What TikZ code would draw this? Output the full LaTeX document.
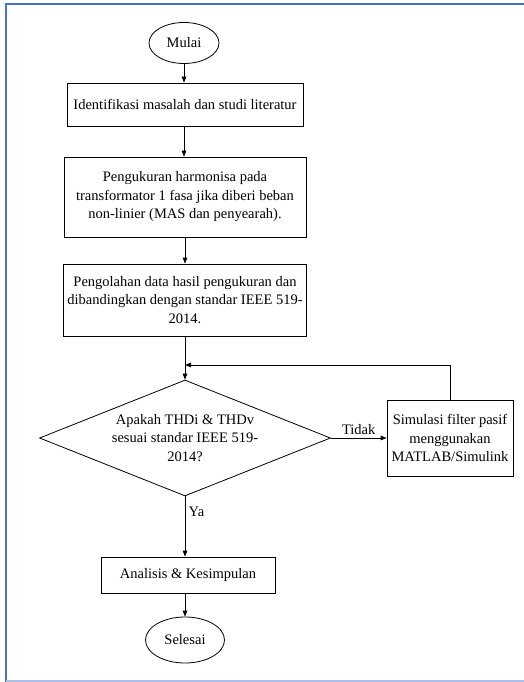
\documentclass[tikz,border=0pt]{standalone}
\usepackage{fontspec}
\setmainfont{Liberation Serif}
\usetikzlibrary{shapes.geometric,arrows.meta}

\definecolor{tepibiru}{RGB}{68,114,206}
\definecolor{tepimuda}{RGB}{172,192,228}

\tikzset{
	huruf/.style={font=\fontsize{14.5}{18.5}\selectfont},
	kotak/.style={draw, line width=0.8pt, align=center, inner sep=0pt, huruf},
	terminal/.style={draw, ellipse, line width=0.8pt, inner sep=0pt, huruf},
	keputusan/.style={draw, diamond, aspect=2.5, line width=0.8pt, align=center, inner sep=0pt, huruf},
	panah/.style={line width=0.8pt, -{Triangle[length=6pt,width=4.5pt]}}
}

\begin{document}
\begin{tikzpicture}[x=1pt,y=-1pt]
	\useasboundingbox (0,0) rectangle (524,682);
	\draw[tepibiru, line width=2pt] (6,682) -- (6,4) -- (524,4); % Bingkai.
	\draw[tepimuda, line width=1.2pt] (6,681) -- (524,681);

	\node[terminal, minimum width=70pt, minimum height=41pt] (mulai) at (184,43) {Mulai};
	\node[kotak, minimum width=236pt, minimum height=43pt] (identifikasi) at (185,104.5) {Identifikasi masalah dan studi literatur};
	\node[kotak, minimum width=242pt, minimum height=80pt] (pengukuran) at (185,197) {Pengukuran harmonisa pada\\ transformator 1 fasa jika diberi beban\\ non-linier (MAS dan penyearah).};
	\node[kotak, minimum width=243pt, minimum height=72pt] (pengolahan) at (185,300) {Pengolahan data hasil pengukuran dan\\ dibandingkan dengan standar IEEE 519-\\ 2014.};
	\coordinate (gabung) at (185,365);
	\node[keputusan, minimum width=291pt, minimum height=116pt] (cek) at (185,438) {Apakah THDi \& THDv\\ sesuai standar IEEE 519-\\ 2014?};
	\node[kotak, minimum width=126pt, minimum height=76pt] (simulasi) at (450,438) {Simulasi filter pasif\\ menggunakan\\ MATLAB/Simulink};
	\node[kotak, minimum width=174pt, minimum height=36pt] (analisis) at (188,575) {Analisis \& Kesimpulan};
	\node[terminal, minimum width=79pt, minimum height=46pt] (selesai) at (185,640) {Selesai};

	\draw[panah] (mulai) -- (mulai |- identifikasi.north);
	\draw[panah] (identifikasi.south -| mulai) -- (mulai |- pengukuran.north);
	\draw[panah] (pengukuran) -- (pengolahan);
	\draw[panah] (pengolahan) -- (cek);
	\draw[panah] (cek) -- (simulasi)node[midway, above, huruf]{Tidak};
	\draw[panah] (simulasi.north) |- (gabung); % Kembali ke keputusan.
	\draw[panah] (cek.south) -- (cek.south |- analisis.north)node[pos=0.25, right, huruf]{Ya};
	\draw[panah] (analisis.south -| selesai) -- (selesai);
\end{tikzpicture}
\end{document}
